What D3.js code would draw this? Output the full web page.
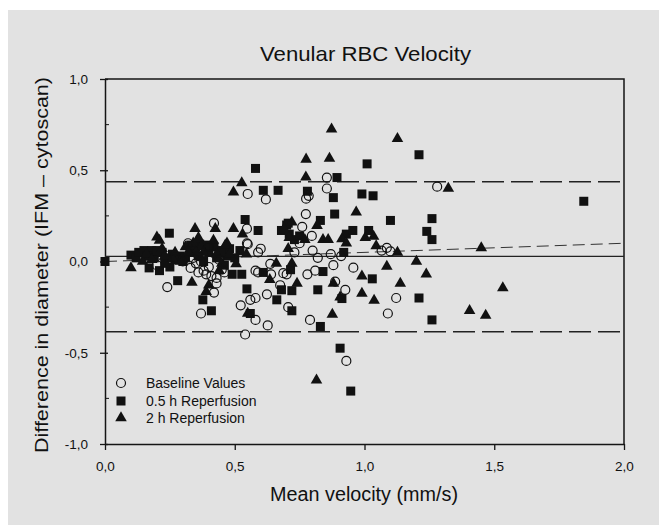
<!DOCTYPE html>
<html><head><meta charset="utf-8">
<script src="https://cdn.jsdelivr.net/npm/d3@7"></script>
<style>html,body{margin:0;padding:0;background:#fff}svg{display:block}text{font-family:"Liberation Sans",Arial,Helvetica,sans-serif;fill:#111}</style>
</head><body>
<script>
// ---- data ----
const baseline = [[0.32,0.10],[0.42,0.21],[0.34,0.02],[0.35,-0.01],[0.33,-0.035],[0.36,-0.06],[0.38,-0.05],[0.24,-0.14],[0.37,-0.285],[0.42,-0.17],[0.43,-0.09],[0.45,-0.045],[0.44,0.01],[0.55,0.37],[0.62,0.34],[0.547,0.18],[0.55,0.095],[0.60,0.07],[0.59,0.05],[0.523,-0.24],[0.54,-0.40],[0.56,-0.21],[0.58,-0.20],[0.58,-0.32],[0.627,-0.35],[0.624,-0.18],[0.59,-0.06],[0.637,-0.013],[0.64,-0.07],[0.687,-0.064],[0.675,-0.13],[0.70,-0.07],[0.706,-0.25],[0.774,0.26],[0.775,0.344],[0.785,0.36],[0.76,0.19],[0.75,0.10],[0.797,0.14],[0.80,0.06],[0.78,-0.07],[0.73,0.05],[0.79,-0.32],[0.855,0.46],[0.855,0.40],[0.87,0.04],[0.887,-0.11],[0.926,-0.155],[0.957,-0.034],[0.93,-0.545],[1.066,0.06],[1.086,0.075],[1.10,0.055],[1.122,-0.20],[1.09,-0.285],[1.28,0.41],[0.30,0.0],[0.36,0.03],[0.39,-0.07],[0.40,-0.03],[0.37,0.0],[0.41,-0.08],[0.43,-0.12],[0.46,-0.06],[0.81,-0.05],[0.82,0.02],[0.91,0.03],[0.88,-0.02],[0.40,0.08],[0.20,-0.02],[0.27,0.02],[0.547,0.10],[0.58,-0.05]];
const reperf05 = [[0.0,0.0],[0.10,0.035],[0.12,0.02],[0.15,0.06],[0.17,-0.035],[0.19,0.02],[0.21,-0.05],[0.22,0.05],[0.25,-0.03],[0.248,0.155],[0.28,-0.105],[0.30,0.0],[0.33,0.05],[0.34,0.06],[0.365,0.095],[0.40,0.05],[0.43,0.02],[0.47,0.03],[0.377,-0.21],[0.41,-0.27],[0.46,-0.02],[0.49,-0.07],[0.52,0.06],[0.527,-0.07],[0.18,0.06],[0.27,0.01],[0.31,0.02],[0.36,0.03],[0.44,0.06],[0.24,0.02],[0.13,0.05],[0.16,0.03],[0.20,0.06],[0.23,-0.01],[0.26,0.04],[0.29,0.03],[0.35,0.08],[0.39,0.09],[0.42,0.08],[0.45,0.05],[0.48,0.07],[0.50,0.02],[0.38,0.0],[0.33,0.09],[0.54,0.23],[0.547,-0.15],[0.56,-0.285],[0.58,0.51],[0.59,0.17],[0.61,0.39],[0.61,-0.06],[0.662,-0.21],[0.667,0.39],[0.68,-0.155],[0.70,0.20],[0.68,0.17],[0.71,0.15],[0.73,0.12],[0.75,0.14],[0.715,-0.045],[0.72,-0.27],[0.72,-0.16],[0.78,0.385],[0.82,-0.155],[0.83,-0.356],[0.83,0.225],[0.84,-0.055],[0.88,0.35],[0.885,0.26],[0.894,0.46],[0.906,-0.475],[0.913,-0.203],[0.92,0.05],[0.947,-0.71],[0.93,0.15],[0.955,0.17],[0.99,0.37],[1.01,0.535],[1.016,0.17],[1.033,0.36],[1.03,-0.095],[1.10,0.225],[1.21,0.585],[1.21,-0.20],[1.24,0.165],[1.26,-0.32],[1.26,0.235],[1.26,0.12],[1.845,0.33],[0.706,0.21]];
const reperf2 = [[0.10,-0.035],[0.145,0.0],[0.16,0.04],[0.18,0.01],[0.20,0.133],[0.21,0.115],[0.22,0.07],[0.23,0.03],[0.26,0.015],[0.27,0.05],[0.29,0.0],[0.31,0.08],[0.34,0.10],[0.37,0.08],[0.43,0.04],[0.47,0.10],[0.35,0.05],[0.335,-0.115],[0.347,0.18],[0.36,0.13],[0.425,0.18],[0.418,0.115],[0.39,-0.165],[0.463,0.088],[0.38,0.05],[0.45,-0.01],[0.48,0.04],[0.505,-0.013],[0.32,0.05],[0.44,-0.05],[0.40,-0.13],[0.495,0.38],[0.495,0.18],[0.527,0.43],[0.53,0.15],[0.545,0.04],[0.55,-0.285],[0.635,-0.10],[0.66,-0.01],[0.69,0.18],[0.706,0.07],[0.71,0.13],[0.72,0.215],[0.72,-0.01],[0.74,-0.12],[0.775,0.56],[0.774,0.462],[0.77,0.12],[0.817,0.197],[0.815,-0.65],[0.84,0.12],[0.86,0.12],[0.865,0.565],[0.873,0.725],[0.876,-0.29],[0.88,-0.12],[0.906,-0.195],[0.913,0.124],[0.93,0.10],[0.968,0.27],[0.99,-0.08],[0.99,-0.175],[1.003,0.13],[1.035,0.137],[1.037,-0.213],[1.045,0.085],[1.086,-0.027],[1.127,0.673],[1.127,0.05],[1.138,-0.12],[1.20,0.0],[1.238,-0.07],[1.323,0.40],[1.405,-0.27],[1.45,0.075],[1.467,-0.295],[1.533,-0.145]];
const limitLines = [0.437, -0.385];
const meanLine = 0.028;
const regression = [[0.0,0.0],[2.0,0.10]];
const xTicks = [0,0.5,1.0,1.5,2.0];
const yTicks = [-1,-0.5,0,0.5,1];
const yMinor = [-0.75,-0.25,0.25,0.75];
const seriesNames = ["Baseline Values","0.5 h Reperfusion","2 h Reperfusion"];

// ---- drawing ----
const W=666,H=531;
const svg=d3.select("body").append("svg").attr("width",W).attr("height",H);
svg.append("rect").attr("x",8).attr("y",10).attr("width",651).attr("height",515).attr("fill","#e2e2e2");
const L=105,R=624,T=79,B=444;
const x=d3.scaleLinear().domain([0,2]).range([L,R]);
const y=d3.scaleLinear().domain([-1,1]).range([B,T]);
const fmt=d=>d3.format(".1f")(d).replace(".",",").replace("\u2212","-");

svg.append("text").attr("x",365.5).attr("y",61).attr("text-anchor","middle").attr("font-size",21)
  .attr("textLength",211).attr("lengthAdjust","spacingAndGlyphs").text("Venular RBC Velocity");

// frame
const ink="#151515";
svg.append("path").attr("d",`M${L},${T}H${R}V${B}`).attr("fill","none").attr("stroke",ink).attr("stroke-width",1.5);

const gx=svg.append("g").attr("transform",`translate(0,${B})`)
  .call(d3.axisBottom(x).tickValues(xTicks).tickFormat(fmt).tickSize(6).tickPadding(11).tickSizeOuter(0));
const gy=svg.append("g").attr("transform",`translate(${L},0)`)
  .call(d3.axisLeft(y).tickValues(yTicks).tickFormat(fmt).tickSize(5).tickPadding(12).tickSizeOuter(0));
[gx,gy].forEach(g=>{g.select(".domain").attr("stroke",ink).attr("stroke-width",1.5);
  g.selectAll(".tick line").attr("stroke",ink).attr("stroke-width",1.3);
  g.selectAll("text").attr("font-size",13.5).attr("fill","#111").attr("font-family","Liberation Sans, Arial, sans-serif");});
gy.selectAll(".tick").append("line").attr("x1",0).attr("x2",3).attr("stroke",ink).attr("stroke-width",1.3);
svg.append("g").selectAll("line").data(yMinor).join("line")
  .attr("x1",L).attr("x2",L+4).attr("y1",d=>y(d)).attr("y2",d=>y(d)).attr("stroke",ink).attr("stroke-width",1);

// reference lines
svg.append("g").selectAll("line").data(limitLines).join("line")
  .attr("x1",x(0)).attr("x2",x(2)).attr("y1",d=>y(d)).attr("y2",d=>y(d))
  .attr("stroke","#222").attr("stroke-width",1.5).attr("stroke-dasharray","22,7");
svg.append("line").attr("x1",x(0)).attr("x2",x(2)).attr("y1",y(meanLine)).attr("y2",y(meanLine))
  .attr("stroke","#222").attr("stroke-width",1.4);
svg.append("path").attr("d",d3.line().x(d=>x(d[0])).y(d=>y(d[1]))(regression))
  .attr("fill","none").attr("stroke","#333").attr("stroke-width",1).attr("stroke-dasharray","12,6");

// points
const sq=9;
svg.append("g").selectAll("rect").data(reperf05).join("rect")
  .attr("x",d=>x(d[0])-sq/2).attr("y",d=>y(d[1])-sq/2).attr("width",sq).attr("height",sq).attr("fill","#111");
const tri=d3.symbol().type(d3.symbolTriangle).size(58);
svg.append("g").selectAll("path").data(reperf2).join("path")
  .attr("transform",d=>`translate(${x(d[0])},${y(d[1])})`).attr("d",tri).attr("fill","#111");
svg.append("g").selectAll("circle").data(baseline).join("circle")
  .attr("cx",d=>x(d[0])).attr("cy",d=>y(d[1])).attr("r",4.5).attr("fill","none").attr("stroke","#111").attr("stroke-width",1.2);

// legend
const lg=svg.append("g");
const ly=[383,401,418];
lg.append("circle").attr("cx",121).attr("cy",ly[0]).attr("r",4.5).attr("fill","none").attr("stroke","#111").attr("stroke-width",1.2);
lg.append("rect").attr("x",121-4.5).attr("y",ly[1]-4.5).attr("width",9).attr("height",9).attr("fill","#111");
lg.append("path").attr("transform",`translate(121,${ly[2]})`).attr("d",tri).attr("fill","#111");
lg.selectAll("text").data(seriesNames).join("text").attr("x",146).attr("y",(d,i)=>ly[i]+5)
  .attr("font-size",14).text(d=>d);

// axis titles
svg.append("text").attr("x",364).attr("y",501).attr("text-anchor","middle").attr("font-size",20)
  .attr("textLength",188).attr("lengthAdjust","spacingAndGlyphs").text("Mean velocity (mm/s)");
svg.append("text").attr("transform","translate(48,265) rotate(-90)").attr("text-anchor","middle").attr("font-size",19)
  .attr("textLength",376).attr("lengthAdjust","spacingAndGlyphs").text("Difference in diameter (IFM – cytoscan)");
</script>
</body></html>
